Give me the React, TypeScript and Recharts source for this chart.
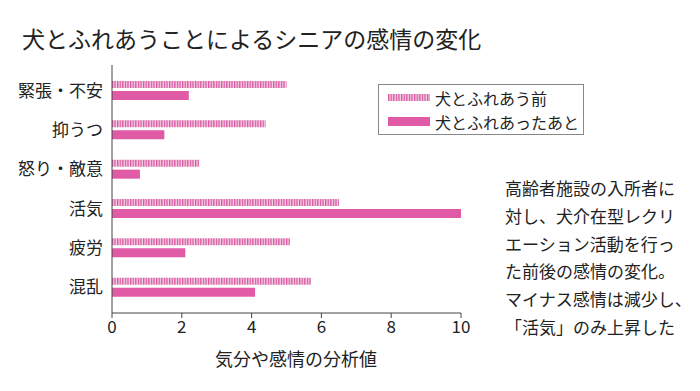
import { Bar, BarChart, XAxis, YAxis } from 'recharts';

const categories = ['緊張・不安', '抑うつ', '怒り・敵意', '活気', '疲労', '混乱'];
const beforeValues = [5.0, 4.4, 2.5, 6.5, 5.1, 5.7];
const afterValues = [2.2, 1.5, 0.8, 10.0, 2.1, 4.1];
const xTicks = [0, 2, 4, 6, 8, 10];
const noteLines = [
  '高齢者施設の入所者に',
  '対し、犬介在型レクリ',
  'エーション活動を行っ',
  'た前後の感情の変化。',
  'マイナス感情は減少し、',
  '「活気」のみ上昇した'
];

const chartData = categories.map((name, i) => ({
  name,
  before: beforeValues[i],
  after: afterValues[i]
}));

const FONT = '"Noto Sans CJK JP", "Noto Sans", sans-serif';
const PINK = '#e05aa6';

export default function App() {
  return (
    <div
      style={{
        position: 'absolute',
        left: 0,
        top: 0,
        width: 700,
        height: 391,
        background: '#ffffff',
        fontFamily: FONT,
        color: '#222'
      }}
    >
      <div style={{ position: 'absolute', left: 22, top: 22, fontSize: 23, lineHeight: '32px', whiteSpace: 'nowrap' }}>
        犬とふれあうことによるシニアの感情の変化
      </div>

      <BarChart
        width={700}
        height={391}
        data={chartData}
        layout="vertical"
        margin={{ top: 65, right: 239, bottom: 48, left: 0 }}
        barGap={3}
      >
        <defs>
          <pattern id="stripes" patternUnits="userSpaceOnUse" width={2.6} height={10}>
            <rect x={0} y={0} width={2.6} height={10} fill="#f4d2e5" />
            <rect x={0} y={0} width={1.3} height={10} fill="#d955a0" />
          </pattern>
        </defs>
        <XAxis
          type="number"
          domain={[0, 10]}
          ticks={xTicks}
          height={30}
          axisLine={{ stroke: '#444' }}
          tickLine={{ stroke: '#444' }}
          tickSize={5}
          tickMargin={3}
          tick={{ fontSize: 17, fill: '#222', fontFamily: FONT }}
        />
        <YAxis
          type="category"
          dataKey="name"
          width={112}
          padding={{ top: 6, bottom: 6 }}
          axisLine={{ stroke: '#444' }}
          tickLine={false}
          tickSize={0}
          tickMargin={9}
          tick={{ fontSize: 17, fill: '#222', fontFamily: FONT }}
        />
        <Bar dataKey="before" fill="url(#stripes)" barSize={7} isAnimationActive={false} />
        <Bar dataKey="after" fill={PINK} barSize={9} isAnimationActive={false} />
      </BarChart>

      <div
        style={{
          position: 'absolute',
          left: 215,
          top: 345,
          fontSize: 18,
          lineHeight: '26px',
          whiteSpace: 'nowrap'
        }}
      >
        気分や感情の分析値
      </div>

      <div
        style={{
          position: 'absolute',
          left: 378,
          top: 84,
          width: 206,
          height: 51,
          border: '1px solid #888',
          boxSizing: 'border-box',
          background: '#fff'
        }}
      >
        <div style={{ position: 'absolute', left: 9, top: 9, width: 42, height: 7 }}>
          <svg width={42} height={7} style={{ display: 'block' }}>
            <defs>
              <pattern id="stripesLegend" patternUnits="userSpaceOnUse" width={2.6} height={10}>
                <rect x={0} y={0} width={2.6} height={10} fill="#f4d2e5" />
                <rect x={0} y={0} width={1.3} height={10} fill="#d955a0" />
              </pattern>
            </defs>
            <rect x={0} y={0} width={42} height={7} fill="url(#stripesLegend)" />
          </svg>
        </div>
        <div style={{ position: 'absolute', left: 56, top: 3, fontSize: 16, lineHeight: '20px', whiteSpace: 'nowrap' }}>
          犬とふれあう前
        </div>
        <div style={{ position: 'absolute', left: 9, top: 32, width: 42, height: 9, background: PINK }} />
        <div style={{ position: 'absolute', left: 56, top: 27, fontSize: 16, lineHeight: '20px', whiteSpace: 'nowrap' }}>
          犬とふれあったあと
        </div>
      </div>

      <div style={{ position: 'absolute', left: 505, top: 174, fontSize: 17, lineHeight: '27.8px' }}>
        {noteLines.map((line) => (
          <div key={line} style={{ whiteSpace: 'nowrap' }}>
            {line}
          </div>
        ))}
      </div>
    </div>
  );
}
